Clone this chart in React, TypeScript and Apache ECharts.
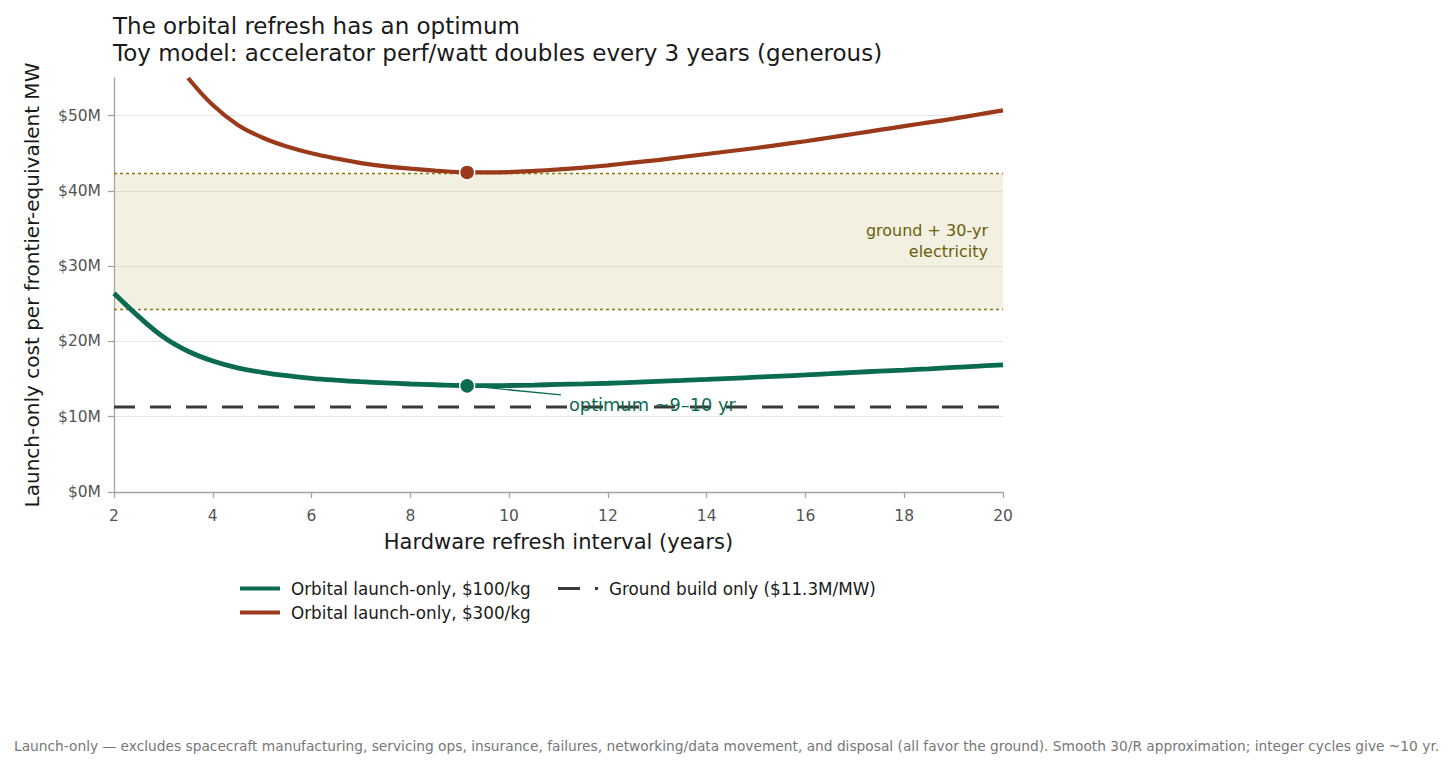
import { useEffect, useRef } from "react";
import * as echarts from "echarts";

// Refresh interval (years) and launch-only cost ($M per frontier-equivalent MW)
const years100 = [
  2, 2.5, 3, 3.5, 4, 4.5, 5, 5.5, 6, 6.5, 7, 7.5, 8, 8.5, 9, 9.5, 10, 10.5, 11, 11.5, 12, 12.5, 13, 13.5,
  14, 14.5, 15, 15.5, 16, 16.5, 17, 17.5, 18, 18.5, 19, 19.5, 20,
];
const cost100 = [
  26.4, 23.3, 20.6, 18.7, 17.4, 16.5, 15.9, 15.45, 15.1, 14.85, 14.65, 14.5, 14.35, 14.25, 14.15, 14.12,
  14.15, 14.2, 14.3, 14.37, 14.45, 14.57, 14.7, 14.82, 14.95, 15.1, 15.25, 15.4, 15.55, 15.72, 15.9,
  16.05, 16.2, 16.37, 16.55, 16.72, 16.9,
];

const years300 = [
  3.5, 4, 4.5, 5, 5.5, 6, 6.5, 7, 7.5, 8, 8.5, 9, 9.5, 10, 10.5, 11, 11.5, 12, 12.5, 13, 13.5, 14, 14.5,
  15, 15.5, 16, 16.5, 17, 17.5, 18, 18.5, 19, 19.5, 20,
];
const cost300 = [
  55.0, 51.4, 48.8, 47.1, 45.9, 45.0, 44.3, 43.7, 43.25, 42.95, 42.7, 42.5, 42.45, 42.5, 42.65, 42.85,
  43.1, 43.4, 43.75, 44.1, 44.5, 44.9, 45.3, 45.7, 46.15, 46.6, 47.1, 47.6, 48.1, 48.6, 49.1, 49.6, 50.15,
  50.7,
];

const optimumYear = 9.15;
const optimum100 = 14.1;
const optimum300 = 42.45;

const groundBuild = 11.3;
const groundPlusElectricity = [24.3, 42.3];

const yTicks = [0, 10, 20, 30, 40, 50];
const xRange = [2, 20];

// Leader line from the $100/kg optimum to its note
const noteStart = [9.3, 14.03];
const noteEnd = [11.05, 12.9];

const NAME_100 = "Orbital launch-only, $100/kg";
const NAME_300 = "Orbital launch-only, $300/kg";
const NAME_GROUND = "Ground build only ($11.3M/MW)";

const FONT = "DejaVu Sans";
const GREEN = "#0a6b50";
const RUST = "#9a3a1a";
const OLIVE = "#8a7a12";
const INK = "#1a1a1a";
const AXIS = "#a3a3a3";

const SOLID_ICON = "path://M0,0H40V4H0Z";
const DASH_ICON = "path://M0,0H22V3H0Z M37,0H40V3H37Z";

const pairs = (xs: number[], ys: number[]) => xs.map((x, i) => [x, ys[i]]);

export default function App() {
  const ref = useRef<HTMLDivElement>(null);

  useEffect(() => {
    document.body.style.margin = "0";
    const chart = echarts.init(ref.current!, null, { renderer: "svg" });

    chart.setOption({
      animation: false,
      backgroundColor: "#ffffff",
      title: {
        text:
          "The orbital refresh has an optimum\nToy model: accelerator perf/watt doubles every 3 years (generous)",
        left: 108,
        top: 7,
        textStyle: {
          fontFamily: FONT,
          fontSize: 23,
          fontWeight: "normal",
          color: INK,
          lineHeight: 27,
        },
      },
      grid: { left: 114, right: 453, top: 78, bottom: 277 },
      legend: [
        {
          data: [
            { name: NAME_100, icon: SOLID_ICON, itemStyle: { color: GREEN } },
            { name: NAME_300, icon: SOLID_ICON, itemStyle: { color: RUST } },
          ],
          orient: "vertical",
          left: 235,
          top: 575,
          itemWidth: 40,
          itemHeight: 4,
          itemGap: 7,
          textStyle: { fontFamily: FONT, fontSize: 16.8, color: INK, padding: [0, 0, 0, 6] },
        },
        {
          data: [{ name: NAME_GROUND, icon: DASH_ICON, itemStyle: { color: "#3a3a3a" } }],
          orient: "vertical",
          left: 553,
          top: 575,
          itemWidth: 40,
          itemHeight: 3,
          textStyle: { fontFamily: FONT, fontSize: 16.8, color: INK, padding: [0, 0, 0, 6] },
        },
      ],
      xAxis: {
        type: "value",
        min: xRange[0],
        max: xRange[1],
        interval: 2,
        name: "Hardware refresh interval (years)",
        nameLocation: "middle",
        nameGap: 39,
        nameTextStyle: { fontFamily: FONT, fontSize: 21, color: INK },
        axisLine: { show: true, lineStyle: { color: AXIS, width: 1.3 } },
        axisTick: { show: true, length: 6, lineStyle: { color: AXIS, width: 1.3 } },
        axisLabel: { fontFamily: FONT, fontSize: 15.5, color: "#555", margin: 16 },
        splitLine: { show: false },
      },
      yAxis: {
        type: "value",
        min: 0,
        max: 55,
        interval: 10,
        name: "Launch-only cost per frontier-equivalent MW",
        nameLocation: "middle",
        nameRotate: 90,
        nameGap: 72,
        nameTextStyle: { fontFamily: FONT, fontSize: 20, color: INK },
        axisLine: { show: true, lineStyle: { color: AXIS, width: 1.3 } },
        axisTick: {
          show: true,
          length: 6,
          customValues: yTicks,
          lineStyle: { color: AXIS, width: 1.3 },
        },
        axisLabel: {
          customValues: yTicks,
          fontFamily: FONT,
          fontSize: 15.5,
          color: "#555",
          margin: 13,
          formatter: (v: number) => `$${v}M`,
        },
        splitLine: {
          show: true,
          lineStyle: {
            color: ["#e6e6e6", "#e6e6e6", "#e6e6e6", "#e6e6e6", "#e6e6e6", "#e6e6e6", "rgba(0,0,0,0)"],
            width: 1,
          },
        },
      },
      series: [
        {
          name: NAME_GROUND,
          type: "line",
          data: [
            [xRange[0], groundBuild],
            [xRange[1], groundBuild],
          ],
          symbol: "none",
          z: 3,
          lineStyle: { color: "#3a3a3a", width: 3, type: [21, 15] },
          itemStyle: { color: "#3a3a3a" },
          markArea: {
            silent: true,
            itemStyle: { color: "rgba(195,185,120,0.22)" },
            label: {
              show: true,
              position: "insideRight",
              distance: 15,
              formatter: "ground + 30-yr\nelectricity",
              fontFamily: FONT,
              fontSize: 16,
              lineHeight: 21,
              color: "#6b5e08",
              align: "right",
            },
            data: [[{ yAxis: groundPlusElectricity[0] }, { yAxis: groundPlusElectricity[1] }]],
          },
          markLine: {
            silent: true,
            symbol: ["none", "none"],
            label: { show: false },
            lineStyle: { color: OLIVE, width: 1.4, type: [3, 3] },
            data: [{ yAxis: groundPlusElectricity[0] }, { yAxis: groundPlusElectricity[1] }],
          },
        },
        {
          name: NAME_100,
          type: "line",
          data: pairs(years100, cost100),
          symbol: "none",
          smooth: 0.4,
          clip: true,
          z: 5,
          lineStyle: { color: GREEN, width: 4.8 },
          itemStyle: { color: GREEN },
        },
        {
          name: NAME_300,
          type: "line",
          data: pairs(years300, cost300),
          symbol: "none",
          smooth: 0.4,
          clip: true,
          z: 5,
          lineStyle: { color: RUST, width: 4.2 },
          itemStyle: { color: RUST },
        },
        {
          name: "optimum-100",
          type: "scatter",
          data: [[optimumYear, optimum100]],
          symbol: "circle",
          symbolSize: 15,
          z: 8,
          itemStyle: { color: GREEN, borderColor: "#ffffff", borderWidth: 1.5, opacity: 1 },
          markLine: {
            silent: true,
            symbol: ["none", "none"],
            label: { show: false },
            lineStyle: { color: GREEN, width: 1.4, type: "solid" },
            data: [[{ coord: noteStart }, { coord: noteEnd }]],
          },
          markPoint: {
            silent: true,
            symbol: "circle",
            symbolSize: 0,
            label: {
              show: true,
              position: "right",
              distance: 5,
              offset: [3, 10],
              formatter: "optimum ~9–10 yr",
              fontFamily: FONT,
              fontSize: 17.8,
              color: GREEN,
            },
            data: [{ coord: noteEnd }],
          },
        },
        {
          name: "optimum-300",
          type: "scatter",
          data: [[optimumYear, optimum300]],
          symbol: "circle",
          symbolSize: 15,
          z: 8,
          itemStyle: { color: RUST, borderColor: "#ffffff", borderWidth: 1.5, opacity: 1 },
        },
      ],
      graphic: [
        {
          type: "text",
          left: 14,
          top: 739,
          style: {
            text:
              "Launch-only — excludes spacecraft manufacturing, servicing ops, insurance, failures, networking/data movement, and disposal (all favor the ground). Smooth 30/R approximation; integer cycles give ~10 yr.",
            fontFamily: FONT,
            fontSize: 13.75,
            fill: "#777777",
          },
        },
      ],
    });

    return () => chart.dispose();
  }, []);

  return <div ref={ref} style={{ width: 1456, height: 769 }} />;
}
